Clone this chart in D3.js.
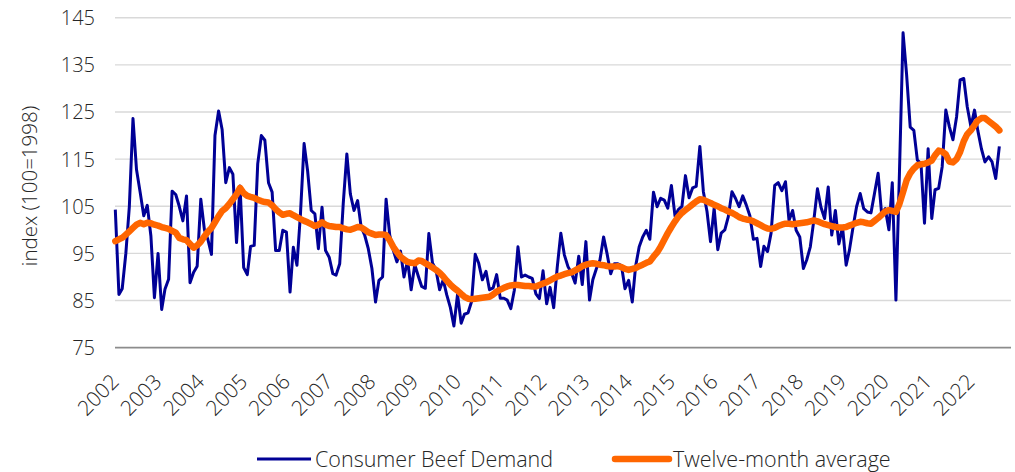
<!DOCTYPE html>
<html>
<head>
<meta charset="utf-8">
<script src="https://cdn.jsdelivr.net/npm/d3@7"></script>
<style>
  body { margin: 0; background: #fff; }
  text { font-family: "Open Sans", "Noto Sans", sans-serif; font-weight: 300; fill: #262626; }
</style>
</head>
<body>
<svg id="chart"></svg>
<script>
// valeurs mensuelles, janvier 2002 -> septembre 2022
var debut = new Date(2002, 0, 1)

var annees = ["2002", "2003", "2004", "2005", "2006", "2007", "2008", "2009", "2010", "2011",
  "2012", "2013", "2014", "2015", "2016", "2017", "2018", "2019", "2020", "2021", "2022"]

var ticksY = [75, 85, 95, 105, 115, 125, 135, 145]

var series = ["Consumer Beef Demand", "Twelve-month average"]

// demande (index 100 = 1998)
var demande = [
  104.3, 86.3, 87.5, 95.0, 105.0, 123.6, 112.8, 108.0, 103.0, 105.2, 98.7, 85.6,
  95.0, 83.1, 87.4, 89.5, 108.2, 107.5, 105.0, 101.9, 107.2, 88.8, 91.0, 92.3,
  106.5, 100.0, 98.0, 94.8, 120.0, 125.2, 121.3, 110.0, 113.2, 111.8, 97.3, 109.3,
  92.0, 90.5, 96.5, 96.7, 114.0, 120.0, 119.0, 110.0, 108.0, 95.6, 95.6, 99.9,
  99.5, 86.8, 96.3, 92.5, 103.4, 118.3, 112.5, 104.1, 103.4, 96.0, 104.8, 95.6,
  94.2, 90.7, 90.4, 92.8, 105.5, 116.1, 107.6, 104.1, 106.2, 100.6, 98.8, 96.0,
  91.8, 84.7, 89.3, 90.0, 106.5, 98.9, 95.7, 93.2, 95.5, 90.0, 93.5, 87.3,
  92.6, 90.1, 88.0, 87.6, 99.2, 93.0, 91.5, 87.3, 89.4, 86.2, 83.5, 79.6,
  86.3, 80.2, 82.1, 82.4, 84.8, 94.8, 92.9, 89.4, 91.2, 87.3, 87.7, 90.5,
  85.5, 85.5, 85.1, 83.3, 87.2, 96.4, 90.0, 90.4, 90.0, 89.7, 86.4, 85.4,
  91.3, 84.3, 87.8, 83.5, 92.0, 99.3, 94.7, 92.2, 90.8, 88.7, 94.4, 88.4,
  97.5, 85.1, 89.4, 91.8, 93.6, 98.5, 94.9, 90.7, 92.8, 92.8, 92.4, 87.5,
  89.3, 84.7, 92.2, 96.4, 98.5, 99.9, 98.0, 108.0, 104.9, 106.7, 106.3, 104.6,
  109.4, 102.9, 104.3, 105.0, 111.5, 106.8, 108.9, 109.2, 117.7, 108.1, 103.9, 97.5,
  104.6, 95.8, 99.3, 100.0, 102.8, 108.1, 106.7, 104.9, 107.2, 105.3, 103.0, 98.0,
  98.2, 92.2, 96.5, 95.4, 99.3, 109.4, 110.0, 108.3, 110.2, 102.0, 104.1, 99.9,
  98.5, 91.8, 93.6, 96.4, 102.0, 108.7, 104.8, 102.4, 109.1, 98.9, 104.1, 97.0,
  100.6, 92.5, 95.7, 100.6, 104.9, 107.7, 104.5, 103.8, 103.6, 107.7, 112.0, 103.4,
  104.5, 100.0, 110.0, 85.1, 112.0, 141.8, 133.0, 121.8, 121.1, 114.8, 114.1, 101.4,
  117.2, 102.4, 108.5, 108.8, 113.4, 125.4, 121.9, 119.1, 124.0, 131.8, 132.1, 126.1,
  121.9, 125.4, 121.1, 117.2, 114.4, 115.5, 114.4, 110.9, 117.7
]

// moyenne sur douze mois
var moyenne = [
  97.6, 98.0, 98.3, 99.0, 99.7, 100.4, 101.1, 101.5, 101.2, 101.5, 101.4, 101.1,
  100.9, 100.6, 100.4, 100.2, 99.8, 99.4, 98.3, 98.0, 97.8, 97.0, 96.2, 96.7,
  97.5, 98.6, 99.6, 100.4, 101.6, 102.9, 104.0, 104.6, 105.5, 106.5, 107.5, 108.9,
  107.8, 107.2, 107.0, 106.8, 106.4, 106.1, 105.9, 105.8, 105.2, 104.4, 103.7, 103.2,
  103.4, 103.5, 103.1, 102.7, 102.3, 101.9, 101.6, 101.2, 100.8, 101.1, 101.6, 101.1,
  100.8, 100.7, 100.6, 100.6, 100.3, 100.1, 100.0, 100.3, 100.6, 100.5, 100.0, 99.5,
  99.2, 98.9, 99.0, 99.0, 98.9, 97.8, 96.4, 95.3, 94.3, 93.7, 93.2, 93.0,
  92.9, 93.5, 93.4, 92.9, 92.5, 92.0, 91.5, 90.9, 90.1, 89.2, 88.4, 87.7,
  87.1, 86.4, 85.8, 85.4, 85.3, 85.4, 85.5, 85.6, 85.7, 85.8, 86.3, 86.9,
  87.3, 87.7, 88.0, 88.2, 88.3, 88.3, 88.2, 88.1, 88.1, 88.0, 88.0, 88.3,
  88.6, 88.9, 89.3, 89.7, 90.1, 90.3, 90.6, 90.8, 91.0, 91.4, 91.8, 92.3,
  92.6, 92.8, 92.9, 92.8, 92.6, 92.5, 92.3, 92.2, 92.2, 92.3, 92.1, 91.7,
  91.5, 91.7, 91.9, 92.3, 92.6, 93.0, 93.3, 94.3, 95.2, 96.4, 97.9, 99.3,
  100.6, 101.8, 102.8, 103.6, 104.2, 104.8, 105.4, 106.0, 106.5, 106.4, 106.0, 105.7,
  105.3, 105.0, 104.6, 104.3, 103.9, 103.6, 103.2, 102.7, 102.4, 102.2, 102.1, 101.8,
  101.4, 101.0, 100.6, 100.3, 100.2, 100.4, 100.8, 101.1, 101.3, 101.3, 101.2, 101.3,
  101.4, 101.5, 101.6, 101.8, 102.0, 101.8, 101.5, 101.2, 101.0, 100.8, 100.6, 100.5,
  100.5, 100.6, 100.9, 101.2, 101.5, 101.7, 101.6, 101.4, 101.3, 101.9, 102.5, 103.2,
  103.9, 104.2, 104.0, 103.8, 105.5, 108.0, 110.5, 112.0, 113.0, 113.7, 113.9, 114.0,
  114.3, 114.7, 115.8, 116.8, 116.6, 116.0, 114.5, 114.3, 115.0, 116.5, 118.8, 120.3,
  121.1, 122.2, 123.2, 123.7, 123.7, 123.1, 122.5, 121.9, 121.1
]

var couleurs = ["#000096", "#ff6600"]
var epaisseurs = [3, 6.5]

var largeur = 1015, hauteur = 472

var canevas = d3.select("#chart")
  .attr("width", largeur)
  .attr("height", hauteur)

// axe du temps : categories mensuelles de janvier 2002 a decembre 2022
var x = d3.scaleTime()
  .domain([debut, new Date(2022, 11, 1)])
  .range([115.3, 1010])

var y = d3.scaleLinear()
  .domain([75, 145])
  .range([347.7, 17.7])

function date(i){ return new Date(2002, i, 1) }

// quadrillage
canevas.append("g")
  .selectAll("line")
  .data(ticksY.filter(function(d){ return d > 75 }))
  .enter()
  .append("line")
  .attr("x1", 115)
  .attr("x2", 1011)
  .attr("y1", function(d){ return y(d) })
  .attr("y2", function(d){ return y(d) })
  .attr("style", "stroke:#d9d9d9;stroke-width:1.4")

// etiquettes axe y
var axeY = canevas.append("g")
  .attr("transform", "translate(95,0)")
  .call(d3.axisLeft(y).tickValues(ticksY).tickSize(0).tickPadding(0))
axeY.select(".domain").remove()
axeY.selectAll("text")
  .style("font-size", "20px")
  .attr("fill", "#262626")
  .attr("dy", "0.35em")

// ligne de base
canevas.append("line")
  .attr("x1", 115)
  .attr("x2", 1011)
  .attr("y1", y(75))
  .attr("y2", y(75))
  .attr("style", "stroke:#8c8c8c;stroke-width:1.8")

// titre axe y
canevas.append("text")
  .text("index (100=1998)")
  .attr("transform", "translate(37,186) rotate(-90)")
  .attr("text-anchor", "middle")
  .style("font-size", "20.5px")

// annees en diagonale
canevas.append("g")
  .selectAll("text")
  .data(annees)
  .enter()
  .append("text")
  .text(function(d){ return d })
  .attr("text-anchor", "end")
  .attr("transform", function(d){
    return "translate(" + (x(new Date(+d, 0, 1)) + 5) + ",383) rotate(-45)"
  })
  .style("font-size", "21px")

// courbes
var ligne = d3.line()
  .x(function(d, i){ return x(date(i)) })
  .y(function(d){ return y(d) })

canevas.append("path")
  .datum(demande)
  .attr("d", ligne)
  .attr("fill", "none")
  .attr("stroke", couleurs[0])
  .attr("stroke-width", epaisseurs[0])
  .attr("stroke-linejoin", "round")

canevas.append("path")
  .datum(moyenne)
  .attr("d", ligne)
  .attr("fill", "none")
  .attr("stroke", couleurs[1])
  .attr("stroke-width", epaisseurs[1])
  .attr("stroke-linejoin", "round")
  .attr("stroke-linecap", "round")

// legende
var legendeX = [257, 615]
var legende = canevas.append("g")
  .selectAll("g")
  .data(series)
  .enter()
  .append("g")
  .attr("transform", function(d, i){ return "translate(" + legendeX[i] + ",459)" })

legende.append("line")
  .attr("x1", 0)
  .attr("x2", 54)
  .attr("stroke", function(d, i){ return couleurs[i] })
  .attr("stroke-width", function(d, i){ return epaisseurs[i] })
  .attr("stroke-linecap", function(d, i){ return i == 1 ? "round" : "butt" })

legende.append("text")
  .text(function(d){ return d })
  .attr("x", 58)
  .attr("y", 7.5)
  .style("font-size", "21.5px")
</script>
</body>
</html>
